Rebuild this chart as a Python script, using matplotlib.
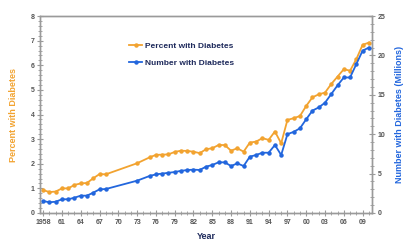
import matplotlib
matplotlib.use("Agg")
import matplotlib.pyplot as plt
from matplotlib.ticker import MultipleLocator

plt.rcParams['font.family'] = ['Liberation Sans', 'DejaVu Sans']

years = [1958, 1959, 1960, 1961, 1962, 1963, 1964, 1965, 1966, 1967, 1968,
         1973, 1975, 1976, 1977, 1978, 1979, 1980, 1981, 1982, 1983, 1984,
         1985, 1986, 1987, 1988, 1989, 1990, 1991, 1992, 1993, 1994, 1995,
         1996, 1997, 1998, 1999, 2000, 2001, 2002, 2003, 2004, 2005, 2006,
         2007, 2008, 2009, 2010]
percent = [0.93, 0.85, 0.87, 1.00, 1.00, 1.14, 1.20, 1.22, 1.41, 1.58, 1.57,
           2.02, 2.26, 2.36, 2.37, 2.38, 2.48, 2.53, 2.52, 2.49, 2.43, 2.59,
           2.63, 2.76, 2.76, 2.53, 2.63, 2.49, 2.86, 2.90, 3.04, 2.97, 3.31,
           2.83, 3.78, 3.85, 3.94, 4.35, 4.70, 4.82, 4.89, 5.24, 5.54, 5.84,
           5.78, 6.25, 6.83, 6.92]
number = [1.52, 1.36, 1.43, 1.74, 1.74, 1.94, 2.20, 2.20, 2.58, 3.00, 3.04,
          4.10, 4.70, 4.90, 5.00, 5.10, 5.20, 5.35, 5.45, 5.50, 5.46, 5.88,
          6.09, 6.43, 6.43, 5.96, 6.30, 5.96, 7.15, 7.36, 7.65, 7.65, 8.63,
          7.36, 10.0, 10.3, 10.75, 11.9, 13.0, 13.4, 14.0, 15.1, 16.2, 17.2,
          17.2, 18.9, 20.6, 21.0]
tick_years = list(range(1958, 2011, 3))
tick_labels = ['1958'] + ["%02d" % (y % 100) for y in tick_years[1:]]

orange = '#F2A330'
blue = '#2266DD'
navy = '#1E2A5C'
grey = '#9A9A9A'
tickc = '#555555'

fig = plt.figure(figsize=(4.07, 2.43), dpi=100)
ax1 = fig.add_axes([0.0983, 0.1235, 0.8157, 0.8105])
ax2 = ax1.twinx()

l1, = ax1.plot(years, percent, color=orange, lw=1.3, marker='o', ms=2.2,
               label='Percent with Diabetes')
l2, = ax2.plot(years, number, color=blue, lw=1.3, marker='o', ms=2.2,
               label='Number with Diabetes')

ax1.set_xlim(1957.5, 2010.5)
ax1.set_ylim(0, 8)
ax2.set_ylim(0, 25)
ax1.set_xticks(tick_years)
ax1.set_xticklabels(tick_labels)
ax1.xaxis.set_minor_locator(MultipleLocator(1))
ax1.yaxis.set_major_locator(MultipleLocator(1))
ax1.yaxis.set_minor_locator(MultipleLocator(0.2))
ax2.yaxis.set_major_locator(MultipleLocator(5))
ax2.yaxis.set_minor_locator(MultipleLocator(1))

for ax in (ax1, ax2):
    for s in ax.spines.values():
        s.set_color(grey)
        s.set_linewidth(1.0)
    ax.tick_params(which='both', direction='inout', color=grey, labelsize=5,
                   labelcolor=tickc, pad=2)
    ax.tick_params(which='major', length=4, width=0.8)
    ax.tick_params(which='minor', length=2.5, width=0.6)
    for lab in ax.get_xticklabels() + ax.get_yticklabels():
        lab.set_fontweight('bold')

ax1.set_xlabel('Year', fontsize=6.5, fontweight='bold', color=navy, labelpad=5)
ax1.set_ylabel('Percent with Diabetes', fontsize=6.5, fontweight='bold',
               color=orange, labelpad=9)
ax2.set_ylabel('Number with Diabetes (Millions)', fontsize=6.5,
               fontweight='bold', color=blue, rotation=90, labelpad=7)

leg = ax1.legend(handles=[l1, l2], loc='upper left',
                 bbox_to_anchor=(0.245, 0.905), frameon=False,
                 prop={'size': 6, 'weight': 'bold'}, handlelength=1.6,
                 handletextpad=0.3, labelspacing=1.1)
for t in leg.get_texts():
    t.set_color(navy)

fig.savefig('out.png', dpi=100)
